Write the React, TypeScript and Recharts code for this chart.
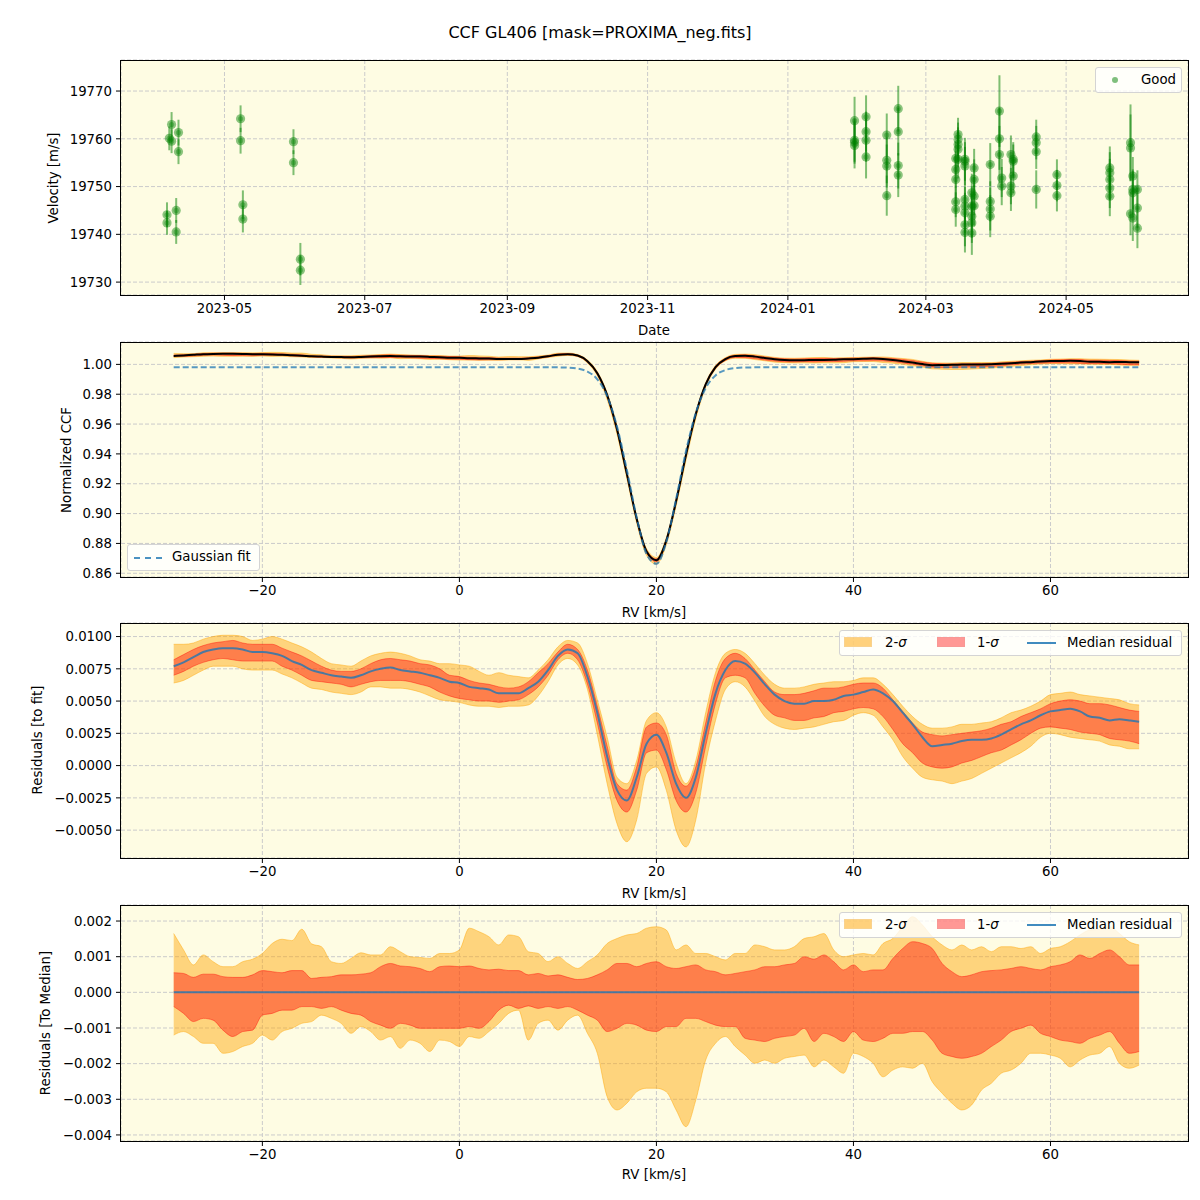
import React from 'react';
import {
  ScatterChart,
  Scatter,
  ErrorBar,
  ComposedChart,
  Area,
  Line,
  XAxis,
  YAxis,
  CartesianGrid,
} from 'recharts';

const FONT = '"DejaVu Sans", sans-serif';
const BG = '#fefce3';
const GRID = '#cbcbcb';
const DAY = 86400000;

// --- top panel: RV time series ---
const obsDates = [
  '2023-04-06', '2023-04-06', '2023-04-07', '2023-04-08', '2023-04-08', '2023-04-10', '2023-04-10', '2023-04-11', '2023-04-11',
  '2023-05-08', '2023-05-08', '2023-05-09', '2023-05-09', '2023-05-31', '2023-05-31', '2023-06-03', '2023-06-03',
  '2024-01-30', '2024-01-30', '2024-01-30', '2024-01-30', '2024-02-04', '2024-02-04', '2024-02-04', '2024-02-04',
  '2024-02-13', '2024-02-13', '2024-02-13', '2024-02-13', '2024-02-18', '2024-02-18', '2024-02-18', '2024-02-18',
  '2024-03-14', '2024-03-14', '2024-03-14', '2024-03-14', '2024-03-14',
  '2024-03-15', '2024-03-15', '2024-03-15', '2024-03-15', '2024-03-15',
  '2024-03-18', '2024-03-18', '2024-03-18', '2024-03-18', '2024-03-18', '2024-03-18', '2024-03-18', '2024-03-18',
  '2024-03-21', '2024-03-21', '2024-03-21', '2024-03-21', '2024-03-21',
  '2024-03-22', '2024-03-22', '2024-03-22', '2024-03-22',
  '2024-03-29', '2024-03-29', '2024-03-29', '2024-03-29',
  '2024-04-02', '2024-04-02', '2024-04-02', '2024-04-03', '2024-04-03',
  '2024-04-07', '2024-04-07', '2024-04-07', '2024-04-08', '2024-04-08', '2024-04-08',
  '2024-04-18', '2024-04-18', '2024-04-18', '2024-04-18', '2024-04-27', '2024-04-27', '2024-04-27',
  '2024-05-20', '2024-05-20', '2024-05-20', '2024-05-20', '2024-05-20',
  '2024-05-29', '2024-05-29', '2024-05-29', '2024-05-30', '2024-05-30', '2024-05-30', '2024-05-30',
  '2024-06-01', '2024-06-01', '2024-06-01',
];
const obsVel = [
  19744.1, 19742.4, 19760.1, 19763.0, 19759.5, 19745.0, 19740.5, 19761.3, 19757.3,
  19764.2, 19759.6, 19746.2, 19743.2, 19759.4, 19755.0, 19734.8, 19732.5,
  19763.8, 19759.7, 19759.3, 19758.6, 19764.6, 19761.5, 19759.7, 19756.2,
  19760.8, 19755.5, 19754.3, 19748.1, 19766.3, 19761.5, 19754.4, 19752.4,
  19755.9, 19753.6, 19751.5, 19745.2, 19746.8,
  19760.9, 19759.9, 19758.8, 19757.8, 19755.7,
  19755.7, 19747.3, 19745.9, 19744.5, 19742.0, 19740.4, 19755.3, 19754.3,
  19748.7, 19745.9, 19743.8, 19742.4, 19740.3,
  19753.9, 19751.5, 19748.0, 19746.0,
  19754.6, 19746.9, 19745.3, 19743.8,
  19765.8, 19760.0, 19756.7, 19751.8, 19750.1,
  19756.7, 19750.1, 19748.7, 19755.7, 19755.3, 19752.2,
  19760.4, 19759.2, 19757.3, 19749.4, 19752.5, 19750.2, 19748.1,
  19753.9, 19752.9, 19751.5, 19749.7, 19748.0,
  19759.2, 19758.1, 19744.3, 19752.2, 19749.4, 19748.7, 19743.4,
  19749.4, 19745.5, 19741.3,
];
const obsErr = [
  2.6, 2.5, 2.5, 2.6, 2.5, 2.6, 2.5, 2.7, 2.6,
  2.8, 2.7, 3.0, 2.8, 2.6, 2.6, 3.4, 3.1,
  5.0, 4.5, 4.5, 4.8, 4.5, 4.2, 4.5, 4.5,
  4.5, 4.8, 4.5, 4.2, 4.8, 5.0, 4.8, 4.6,
  3.5, 3.8, 4.0, 3.6, 3.2,
  3.5, 3.5, 3.6, 3.8, 4.0,
  4.5, 4.0, 4.0, 4.2, 4.5, 4.2, 4.0, 4.0,
  4.0, 4.2, 4.5, 4.2, 4.6,
  4.0, 4.2, 4.0, 4.2,
  4.5, 4.2, 4.5, 4.4,
  7.5, 6.5, 6.0, 4.0, 4.0,
  4.0, 3.8, 3.8, 3.6, 3.5, 3.6,
  3.6, 3.5, 3.6, 4.0, 3.2, 3.3, 3.3,
  4.5, 4.3, 4.3, 4.2, 4.2,
  8.0, 7.0, 4.5, 4.0, 4.2, 4.5, 4.8,
  4.0, 4.2, 4.2,
];
const dateTickLabels = ['2023-05', '2023-07', '2023-09', '2023-11', '2024-01', '2024-03', '2024-05'];
const dateLimits = ['2023-03-17', '2024-06-23'];
const velTicks = [19730, 19740, 19750, 19760, 19770];

// --- CCF panels, sampled on a 1 km/s grid ---
const rv = [
  -29, -28, -27, -26, -25, -24, -23, -22, -21, -20,
  -19, -18, -17, -16, -15, -14, -13, -12, -11, -10,
  -9, -8, -7, -6, -5, -4, -3, -2, -1, 0,
  1, 2, 3, 4, 5, 6, 7, 8, 9, 10,
  11, 12, 13, 14, 15, 16, 17, 18, 19, 20,
  21, 22, 23, 24, 25, 26, 27, 28, 29, 30,
  31, 32, 33, 34, 35, 36, 37, 38, 39, 40,
  41, 42, 43, 44, 45, 46, 47, 48, 49, 50,
  51, 52, 53, 54, 55, 56, 57, 58, 59, 60,
  61, 62, 63, 64, 65, 66, 67, 68, 69,
];
const gaussFit = [
  0.998, 0.998, 0.998, 0.998, 0.998, 0.998, 0.998, 0.998, 0.998, 0.998,
  0.998, 0.998, 0.998, 0.998, 0.998, 0.998, 0.998, 0.998, 0.998, 0.998,
  0.998, 0.998, 0.998, 0.998, 0.998, 0.998, 0.998, 0.998, 0.998, 0.998,
  0.998, 0.998, 0.998, 0.998, 0.998, 0.998, 0.998, 0.998, 0.998, 0.998,
  0.9978, 0.9972, 0.9952, 0.99, 0.9787, 0.9584, 0.9293, 0.8973, 0.8729, 0.8664,
  0.8809, 0.9098, 0.9418, 0.9676, 0.9841, 0.9926, 0.9962, 0.9975, 0.9979, 0.998,
  0.998, 0.998, 0.998, 0.998, 0.998, 0.998, 0.998, 0.998, 0.998, 0.998,
  0.998, 0.998, 0.998, 0.998, 0.998, 0.998, 0.998, 0.998, 0.998, 0.998,
  0.998, 0.998, 0.998, 0.998, 0.998, 0.998, 0.998, 0.998, 0.998, 0.998,
  0.998, 0.998, 0.998, 0.998, 0.998, 0.998, 0.998, 0.998, 0.998,
];
// residuals to the gaussian fit
const resMed = [
  0.0077, 0.008, 0.0084, 0.0088, 0.009, 0.0091, 0.0091, 0.009, 0.0088, 0.0088,
  0.0087, 0.0085, 0.0081, 0.0078, 0.0074, 0.0072, 0.007, 0.0069, 0.0068, 0.007,
  0.0073, 0.0075, 0.0076, 0.0074, 0.0073, 0.0072, 0.007, 0.0068, 0.0065, 0.0064,
  0.0061, 0.006, 0.0059, 0.0056, 0.0056, 0.0056, 0.006, 0.0065, 0.0074, 0.0085,
  0.009, 0.0087, 0.0069, 0.0041, 0.0007, -0.0019, -0.0027, -0.0009, 0.0017, 0.0024,
  0.001, -0.0014, -0.0025, -0.0009, 0.0025, 0.0056, 0.0074, 0.0081, 0.0079, 0.0072,
  0.0063, 0.0055, 0.005, 0.0048, 0.0048, 0.005, 0.005, 0.0051, 0.0054, 0.0055,
  0.0057, 0.0059, 0.0056, 0.005, 0.0041, 0.0032, 0.0022, 0.0015, 0.0016, 0.0017,
  0.0019, 0.002, 0.002, 0.0021, 0.0024, 0.0028, 0.0032, 0.0035, 0.0039, 0.0042,
  0.0043, 0.0044, 0.0042, 0.0038, 0.0037, 0.0035, 0.0036, 0.0035, 0.0034,
];
const res1Hi = [
  0.0082, 0.0086, 0.009, 0.0093, 0.0095, 0.0096, 0.0097, 0.0095, 0.0094, 0.0094,
  0.0094, 0.0091, 0.0088, 0.0085, 0.0081, 0.0077, 0.0074, 0.0073, 0.0073, 0.0075,
  0.0079, 0.0082, 0.0083, 0.0082, 0.0081, 0.0079, 0.0078, 0.0075, 0.007, 0.0069,
  0.0066, 0.0064, 0.0063, 0.0061, 0.006, 0.0061, 0.0065, 0.0072, 0.0079, 0.0088,
  0.0094, 0.009, 0.0074, 0.0046, 0.0015, -0.0014, -0.0019, -0.0001, 0.003, 0.0033,
  0.0024, -0.0006, -0.0016, -0.0001, 0.0033, 0.0066, 0.0083, 0.0087, 0.0083, 0.0074,
  0.0065, 0.0057, 0.0055, 0.0055, 0.0056, 0.0058, 0.006, 0.006, 0.0061, 0.0063,
  0.0064, 0.0064, 0.006, 0.0051, 0.0042, 0.0033, 0.0026, 0.0024, 0.0023, 0.0024,
  0.0025, 0.0026, 0.0027, 0.0029, 0.0032, 0.0034, 0.0038, 0.0041, 0.0044, 0.0048,
  0.005, 0.0051, 0.005, 0.0048, 0.0048, 0.0047, 0.0045, 0.0043, 0.0042,
];
const res1Lo = [
  0.007, 0.0073, 0.0077, 0.008, 0.0082, 0.0083, 0.0082, 0.0081, 0.0081, 0.0081,
  0.0081, 0.0077, 0.0074, 0.007, 0.0066, 0.0065, 0.0064, 0.0063, 0.0061, 0.0063,
  0.0065, 0.0066, 0.0066, 0.0066, 0.0065, 0.0063, 0.0061, 0.0057, 0.0054, 0.0052,
  0.0051, 0.005, 0.005, 0.0049, 0.005, 0.0051, 0.0055, 0.0061, 0.007, 0.0082,
  0.0087, 0.0082, 0.0063, 0.0033, -0.0001, -0.0027, -0.0036, -0.0019, 0.001, 0.0012,
  -0.0003, -0.0027, -0.0036, -0.0021, 0.0015, 0.0048, 0.0068, 0.007, 0.0068, 0.0056,
  0.0046, 0.0039, 0.0037, 0.0035, 0.0035, 0.0037, 0.0038, 0.0041, 0.0042, 0.0044,
  0.0045, 0.0044, 0.0038, 0.0028, 0.0017, 0.001, 0.0002, -0.0001, -0.0002, -0.0001,
  0.0002, 0.0004, 0.0007, 0.001, 0.0012, 0.0016, 0.002, 0.0025, 0.0029, 0.003,
  0.0029, 0.0028, 0.0026, 0.0025, 0.0024, 0.0021, 0.002, 0.0019, 0.0017,
];
const res2Hi = [
  0.0094, 0.0094, 0.0095, 0.0098, 0.01, 0.0101, 0.0101, 0.01, 0.0097, 0.0098,
  0.01, 0.0098, 0.0095, 0.0092, 0.0088, 0.0083, 0.0079, 0.0078, 0.0077, 0.0081,
  0.0085, 0.0087, 0.0088, 0.0087, 0.0085, 0.0082, 0.0081, 0.0079, 0.0079, 0.0078,
  0.0077, 0.0073, 0.007, 0.0072, 0.007, 0.0069, 0.0068, 0.0074, 0.0082, 0.0092,
  0.0097, 0.0095, 0.0079, 0.0051, 0.0022, -0.0009, -0.0014, 0.0004, 0.0035, 0.0041,
  0.003, 0.0002, -0.0014, 0.0004, 0.0041, 0.0072, 0.0087, 0.009, 0.0087, 0.0079,
  0.007, 0.0063, 0.006, 0.006, 0.0061, 0.0063, 0.0064, 0.0065, 0.0065, 0.0066,
  0.0068, 0.0068, 0.0063, 0.0055, 0.0046, 0.0038, 0.0032, 0.0029, 0.0029, 0.003,
  0.0032, 0.0032, 0.0033, 0.0034, 0.0037, 0.0041, 0.0043, 0.0046, 0.005, 0.0055,
  0.0056, 0.0057, 0.0055, 0.0054, 0.0053, 0.0052, 0.0051, 0.0048, 0.0047,
];
const res2Lo = [
  0.0064, 0.0066, 0.007, 0.0074, 0.0077, 0.0077, 0.0077, 0.0075, 0.0074, 0.0074,
  0.0074, 0.0071, 0.0068, 0.0064, 0.006, 0.0059, 0.0057, 0.0056, 0.0055, 0.0057,
  0.0061, 0.0061, 0.006, 0.006, 0.0059, 0.0057, 0.0054, 0.0051, 0.005, 0.0049,
  0.0047, 0.0046, 0.0046, 0.0045, 0.0046, 0.0046, 0.0047, 0.0054, 0.0065, 0.0078,
  0.0083, 0.0078, 0.0059, 0.0024, -0.0014, -0.0045, -0.0059, -0.0042, -0.0006, -0.0001,
  -0.0019, -0.005, -0.0063, -0.0042, 0.0002, 0.0035, 0.0059, 0.0065, 0.0061, 0.005,
  0.0038, 0.0032, 0.0029, 0.0028, 0.0029, 0.003, 0.0032, 0.0034, 0.0035, 0.0039,
  0.0041, 0.0039, 0.003, 0.002, 0.0007, -0.0002, -0.0009, -0.0011, -0.0012, -0.0014,
  -0.0012, -0.001, -0.0006, -0.0002, 0.0002, 0.0006, 0.001, 0.0015, 0.0022, 0.0025,
  0.0024, 0.0022, 0.0021, 0.002, 0.0019, 0.0016, 0.0015, 0.0013, 0.0013,
];
// spread of the individual CCFs around the median CCF
const dev2Hi = [
  1.65e-3, 1.19e-3, 0.77e-3, 1.05e-3, 0.86e-3, 0.72e-3, 0.72e-3, 0.86e-3, 0.93e-3, 1.09e-3,
  1.37e-3, 1.49e-3, 1.45e-3, 1.77e-3, 1.36e-3, 1.28e-3, 0.86e-3, 0.81e-3, 0.95e-3, 1.11e-3,
  1.05e-3, 1.05e-3, 1.28e-3, 1.14e-3, 1.0e-3, 0.98e-3, 0.95e-3, 1.09e-3, 1.09e-3, 1.19e-3,
  1.8e-3, 1.7e-3, 1.56e-3, 1.33e-3, 1.61e-3, 1.56e-3, 1.14e-3, 1.09e-3, 0.86e-3, 1.0e-3,
  0.81e-3, 0.67e-3, 0.86e-3, 1.05e-3, 1.37e-3, 1.51e-3, 1.61e-3, 1.65e-3, 1.8e-3, 1.84e-3,
  1.75e-3, 1.19e-3, 1.33e-3, 1.09e-3, 1.09e-3, 1.0e-3, 0.91e-3, 1.09e-3, 1.09e-3, 1.33e-3,
  1.28e-3, 1.19e-3, 1.19e-3, 1.28e-3, 1.51e-3, 1.56e-3, 1.65e-3, 1.19e-3, 1.0e-3, 1.05e-3,
  1.09e-3, 1.05e-3, 1.37e-3, 1.51e-3, 1.84e-3, 2.12e-3, 1.89e-3, 1.56e-3, 1.33e-3, 1.19e-3,
  1.33e-3, 1.19e-3, 1.28e-3, 1.14e-3, 1.28e-3, 1.28e-3, 1.23e-3, 1.28e-3, 1.09e-3, 1.23e-3,
  1.28e-3, 1.42e-3, 1.61e-3, 1.75e-3, 1.77e-3, 1.84e-3, 1.65e-3, 1.42e-3, 1.33e-3,
];
const dev1Hi = [
  0.55e-3, 0.53e-3, 0.42e-3, 0.51e-3, 0.51e-3, 0.44e-3, 0.42e-3, 0.42e-3, 0.49e-3, 0.61e-3,
  0.58e-3, 0.55e-3, 0.61e-3, 0.61e-3, 0.39e-3, 0.42e-3, 0.44e-3, 0.49e-3, 0.49e-3, 0.51e-3,
  0.55e-3, 0.72e-3, 0.81e-3, 0.74e-3, 0.72e-3, 0.67e-3, 0.58e-3, 0.72e-3, 0.74e-3, 0.72e-3,
  0.74e-3, 0.67e-3, 0.63e-3, 0.65e-3, 0.61e-3, 0.61e-3, 0.49e-3, 0.53e-3, 0.46e-3, 0.49e-3,
  0.42e-3, 0.36e-3, 0.39e-3, 0.49e-3, 0.63e-3, 0.81e-3, 0.81e-3, 0.72e-3, 0.81e-3, 0.86e-3,
  0.72e-3, 0.67e-3, 0.72e-3, 0.77e-3, 0.63e-3, 0.58e-3, 0.49e-3, 0.53e-3, 0.58e-3, 0.63e-3,
  0.72e-3, 0.72e-3, 0.77e-3, 0.81e-3, 1.0e-3, 0.93e-3, 1.05e-3, 0.86e-3, 0.63e-3, 0.77e-3,
  0.58e-3, 0.63e-3, 0.63e-3, 0.95e-3, 1.23e-3, 1.42e-3, 1.37e-3, 1.23e-3, 0.81e-3, 0.58e-3,
  0.44e-3, 0.49e-3, 0.58e-3, 0.61e-3, 0.63e-3, 0.67e-3, 0.72e-3, 0.67e-3, 0.63e-3, 0.72e-3,
  0.77e-3, 0.86e-3, 1.05e-3, 0.95e-3, 1.09e-3, 1.19e-3, 1.0e-3, 0.77e-3, 0.77e-3,
];
const dev1Lo = [
  -0.4e-3, -0.59e-3, -0.82e-3, -0.73e-3, -0.78e-3, -1.06e-3, -1.24e-3, -1.1e-3, -1.06e-3, -0.64e-3,
  -0.59e-3, -0.5e-3, -0.5e-3, -0.4e-3, -0.4e-3, -0.45e-3, -0.4e-3, -0.5e-3, -0.59e-3, -0.64e-3,
  -0.82e-3, -0.92e-3, -1.01e-3, -0.87e-3, -0.92e-3, -1.01e-3, -1.01e-3, -1.01e-3, -1.01e-3, -1.01e-3,
  -0.96e-3, -1.01e-3, -0.82e-3, -0.5e-3, -0.36e-3, -0.45e-3, -0.38e-3, -0.45e-3, -0.4e-3, -0.45e-3,
  -0.4e-3, -0.5e-3, -0.64e-3, -0.78e-3, -1.1e-3, -1.01e-3, -0.87e-3, -0.92e-3, -1.06e-3, -1.1e-3,
  -0.96e-3, -0.96e-3, -0.73e-3, -0.73e-3, -0.82e-3, -0.92e-3, -0.96e-3, -0.96e-3, -1.29e-3, -1.34e-3,
  -1.38e-3, -1.29e-3, -1.24e-3, -1.2e-3, -1.01e-3, -1.38e-3, -1.15e-3, -1.24e-3, -1.38e-3, -1.1e-3,
  -1.34e-3, -1.38e-3, -1.29e-3, -1.15e-3, -1.15e-3, -1.1e-3, -1.1e-3, -1.34e-3, -1.71e-3, -1.8e-3,
  -1.85e-3, -1.8e-3, -1.71e-3, -1.52e-3, -1.34e-3, -1.1e-3, -1.01e-3, -0.92e-3, -1.15e-3, -1.24e-3,
  -1.34e-3, -1.38e-3, -1.43e-3, -1.29e-3, -1.2e-3, -1.1e-3, -1.43e-3, -1.71e-3, -1.66e-3,
];
const dev2Lo = [
  -1.2e-3, -1.1e-3, -1.24e-3, -1.43e-3, -1.43e-3, -1.71e-3, -1.66e-3, -1.52e-3, -1.43e-3, -1.2e-3,
  -1.34e-3, -1.1e-3, -1.01e-3, -0.87e-3, -0.82e-3, -0.64e-3, -0.73e-3, -0.87e-3, -1.15e-3, -0.96e-3,
  -1.1e-3, -1.34e-3, -1.24e-3, -1.57e-3, -1.34e-3, -1.43e-3, -1.66e-3, -1.34e-3, -1.38e-3, -1.52e-3,
  -1.24e-3, -1.29e-3, -1.1e-3, -0.87e-3, -0.59e-3, -0.5e-3, -1.34e-3, -0.87e-3, -0.78e-3, -1.06e-3,
  -0.78e-3, -0.64e-3, -1.15e-3, -1.71e-3, -2.93e-3, -3.3e-3, -3.11e-3, -2.79e-3, -2.69e-3, -2.69e-3,
  -2.79e-3, -3.3e-3, -3.77e-3, -3.02e-3, -1.9e-3, -1.43e-3, -1.24e-3, -1.52e-3, -1.76e-3, -1.99e-3,
  -1.9e-3, -1.99e-3, -1.85e-3, -1.8e-3, -1.76e-3, -2.09e-3, -1.9e-3, -2.09e-3, -2.27e-3, -1.71e-3,
  -1.8e-3, -1.99e-3, -2.37e-3, -2.18e-3, -2.09e-3, -2.13e-3, -1.99e-3, -2.51e-3, -2.83e-3, -3.11e-3,
  -3.3e-3, -3.16e-3, -2.74e-3, -2.55e-3, -2.27e-3, -2.18e-3, -1.99e-3, -1.71e-3, -1.71e-3, -1.76e-3,
  -1.85e-3, -2.09e-3, -1.9e-3, -1.76e-3, -1.71e-3, -1.52e-3, -1.99e-3, -2.13e-3, -2.04e-3,
];
const rvTicks = [-20, 0, 20, 40, 60];
const ccfTicks = [0.86, 0.88, 0.9, 0.92, 0.94, 0.96, 0.98, 1.0];
const resTicks = [-0.005, -0.0025, 0, 0.0025, 0.005, 0.0075, 0.01];
const devTicks = [-0.004, -0.003, -0.002, -0.001, 0, 0.001, 0.002];

const toDay = (s: string) => Date.parse(s) / DAY;
const obsData = obsDates.map((d, i) => ({ day: toDay(d), vel: obsVel[i], err: obsErr[i] }));
const dateTicks = dateTickLabels.map((m) => toDay(m + '-01'));
const dateDomain = dateLimits.map(toDay);

const rows = rv.map((x, i) => {
  const ccf = gaussFit[i] + resMed[i];
  return {
    rv: x,
    fit: gaussFit[i],
    ccf,
    ccf2: [ccf + dev2Lo[i], ccf + dev2Hi[i]],
    ccf1: [ccf + dev1Lo[i], ccf + dev1Hi[i]],
    med: resMed[i],
    res2: [res2Lo[i], res2Hi[i]],
    res1: [res1Lo[i], res1Hi[i]],
    zero: 0,
    dev2: [dev2Lo[i], dev2Hi[i]],
    dev1: [dev1Lo[i], dev1Hi[i]],
  };
});

const fmt = (d: number) => (v: number) => (v < 0 ? '\u2212' + Math.abs(v).toFixed(d) : v.toFixed(d));

const tickStyle = { fill: '#000', fontSize: 13.3, fontFamily: FONT };
const axisProps = {
  tick: tickStyle,
  tickLine: { stroke: '#000' },
  axisLine: false,
  tickSize: 5,
  tickMargin: 4,
};

const ORANGE = '#ffa500';
const RED = '#ff0000';
const BLUE = '#1f77b4';

function Frame({ top, bottom }: { top: number; bottom: number }) {
  return (
    <div
      style={{
        position: 'absolute',
        left: 120,
        top,
        width: 1069,
        height: bottom - top + 1,
        border: '1px solid #000',
        boxSizing: 'border-box',
        pointerEvents: 'none',
      }}
    />
  );
}

function Text({ x, y, children, rotate, size = 13.3 }: any) {
  return (
    <div
      style={{
        position: 'absolute',
        left: x,
        top: y,
        transform: `translate(-50%, -50%)${rotate ? ' rotate(-90deg)' : ''}`,
        whiteSpace: 'nowrap',
        fontFamily: FONT,
        fontSize: size,
        color: '#000',
      }}
    >
      {children}
    </div>
  );
}

const legendBox = {
  position: 'absolute' as const,
  background: 'rgba(255,255,255,0.8)',
  border: '1px solid #d4d4d4',
  borderRadius: 3,
  boxSizing: 'border-box' as const,
  fontFamily: FONT,
  fontSize: 13.3,
  color: '#000',
};

function BandLegend({ top }: { top: number }) {
  const at = (left: number, extra: any = {}) => ({ position: 'absolute' as const, left, ...extra });
  return (
    <div style={{ ...legendBox, left: 839, top, width: 343, height: 26 }}>
      <div style={at(4, { top: 6, width: 28, height: 10, background: ORANGE, opacity: 0.5, border: '1px solid #f5a623', boxSizing: 'border-box' })} />
      <div style={at(45, { top: 4, lineHeight: '16px' })}>
        2-<i>σ</i>
      </div>
      <div style={at(97, { top: 6, width: 28, height: 10, background: RED, opacity: 0.4, border: '1px solid #e00', boxSizing: 'border-box' })} />
      <div style={at(137, { top: 4, lineHeight: '16px' })}>
        1-<i>σ</i>
      </div>
      <div style={at(187, { top: 11, width: 29, height: 2, background: BLUE, opacity: 0.85 })} />
      <div style={at(227, { top: 4, lineHeight: '16px' })}>Median residual</div>
    </div>
  );
}

const Dot = (p: any) => (
  <g>
    <circle cx={p.cx} cy={p.cy} r={4.6} fill="#008000" fillOpacity={0.45} />
    <circle cx={p.cx} cy={p.cy} r={2.6} fill="#008000" fillOpacity={0.35} />
  </g>
);

function rvAxes(yDomain: number[], yTicks: number[], digits: number, xHeight: number) {
  return [
    <CartesianGrid key="g" stroke={GRID} strokeDasharray="4 2" fill={BG} />,
    <XAxis
      key="x"
      type="number"
      dataKey="rv"
      domain={[-34.35, 73.96]}
      allowDataOverflow
      ticks={rvTicks}
      tickFormatter={fmt(0)}
      height={xHeight}
      {...axisProps}
    />,
    <YAxis
      key="y"
      type="number"
      width={121}
      domain={yDomain}
      allowDataOverflow
      ticks={yTicks}
      tickFormatter={fmt(digits)}
      {...axisProps}
    />,
  ];
}

const band = (key: string, color: string, op: number) => (
  <Area
    key={key}
    type="monotone"
    dataKey={key}
    fill={color}
    fillOpacity={op}
    stroke={color}
    strokeOpacity={op}
    strokeWidth={1}
    isAnimationActive={false}
    dot={false}
    activeDot={false}
  />
);

export default function App() {
  return (
    <div style={{ position: 'absolute', left: 0, top: 0, width: 1200, height: 1200, background: '#fff', overflow: 'hidden' }}>
      <Text x={600} y={32} size={16}>CCF GL406 [mask=PROXIMA_neg.fits]</Text>

      {/* panel 1 */}
      <div style={{ position: 'absolute', left: 0, top: 0 }}>
        <ScatterChart width={1200} height={330} margin={{ top: 60, right: 12, bottom: 0, left: 0 }}>
          <CartesianGrid stroke={GRID} strokeDasharray="4 2" fill={BG} />
          <XAxis
            type="number"
            dataKey="day"
            domain={dateDomain}
            allowDataOverflow
            ticks={dateTicks}
            tickFormatter={(v: number) => dateTickLabels[dateTicks.indexOf(v)] ?? ''}
            height={35}
            {...axisProps}
          />
          <YAxis
            type="number"
            dataKey="vel"
            width={121}
            domain={[19727.3, 19776.5]}
            allowDataOverflow
            ticks={velTicks}
            {...axisProps}
          />
          <Scatter data={obsData} shape={Dot} isAnimationActive={false}>
            <ErrorBar dataKey="err" direction="y" width={0} stroke="#008000" strokeOpacity={0.5} strokeWidth={2} />
          </Scatter>
        </ScatterChart>
      </div>
      <Frame top={60} bottom={295} />
      <Text x={53} y={178} rotate>Velocity [m/s]</Text>
      <Text x={654} y={330}>Date</Text>
      <div style={{ ...legendBox, left: 1095, top: 67, width: 87, height: 26 }}>
        <div style={{ position: 'absolute', left: 16, top: 9, width: 6, height: 6, borderRadius: 3, background: '#008000', opacity: 0.5 }} />
        <div style={{ position: 'absolute', left: 45, top: 4, lineHeight: '16px' }}>Good</div>
      </div>

      {/* panel 2 */}
      <div style={{ position: 'absolute', left: 0, top: 330 }}>
        <ComposedChart width={1200} height={290} data={rows} margin={{ top: 12, right: 12, bottom: 0, left: 0 }}>
          {rvAxes([0.8575, 1.015], ccfTicks, 2, 43)}
          {band('ccf2', ORANGE, 0.45)}
          {band('ccf1', RED, 0.4)}
          <Line type="monotone" dataKey="ccf" stroke="#000" strokeWidth={2} dot={false} isAnimationActive={false} />
          <Line
            type="monotone"
            dataKey="fit"
            stroke={BLUE}
            strokeOpacity={0.75}
            strokeWidth={2}
            strokeDasharray="6 3"
            dot={false}
            isAnimationActive={false}
          />
        </ComposedChart>
      </div>
      <Frame top={342} bottom={577} />
      <Text x={66} y={460} rotate>Normalized CCF</Text>
      <Text x={654} y={612}>RV [km/s]</Text>
      <div style={{ ...legendBox, left: 127, top: 544, width: 133, height: 27 }}>
        <div style={{ position: 'absolute', left: 6, top: 12, width: 28, borderTop: `2px dashed ${BLUE}`, opacity: 0.8 }} />
        <div style={{ position: 'absolute', left: 44, top: 4, lineHeight: '16px' }}>Gaussian fit</div>
      </div>

      {/* panel 3 */}
      <div style={{ position: 'absolute', left: 0, top: 620 }}>
        <ComposedChart width={1200} height={280} data={rows} margin={{ top: 3, right: 12, bottom: 0, left: 0 }}>
          {rvAxes([-0.00716, 0.01105], resTicks, 4, 42)}
          {band('res2', ORANGE, 0.45)}
          {band('res1', RED, 0.4)}
          <Line type="monotone" dataKey="med" stroke={BLUE} strokeOpacity={0.8} strokeWidth={2} dot={false} isAnimationActive={false} />
        </ComposedChart>
      </div>
      <Frame top={623} bottom={858} />
      <Text x={37} y={740} rotate>Residuals [to fit]</Text>
      <Text x={654} y={893}>RV [km/s]</Text>
      <BandLegend top={630} />

      {/* panel 4 */}
      <div style={{ position: 'absolute', left: 0, top: 900 }}>
        <ComposedChart width={1200} height={300} data={rows} margin={{ top: 5, right: 12, bottom: 0, left: 0 }}>
          {rvAxes([-0.00417, 0.00245], devTicks, 3, 59)}
          {band('dev2', ORANGE, 0.45)}
          {band('dev1', RED, 0.4)}
          <Line type="monotone" dataKey="zero" stroke={BLUE} strokeOpacity={0.8} strokeWidth={2} dot={false} isAnimationActive={false} />
        </ComposedChart>
      </div>
      <Frame top={905} bottom={1141} />
      <Text x={45} y={1023} rotate>Residuals [To Median]</Text>
      <Text x={654} y={1174}>RV [km/s]</Text>
      <BandLegend top={912} />
    </div>
  );
}
